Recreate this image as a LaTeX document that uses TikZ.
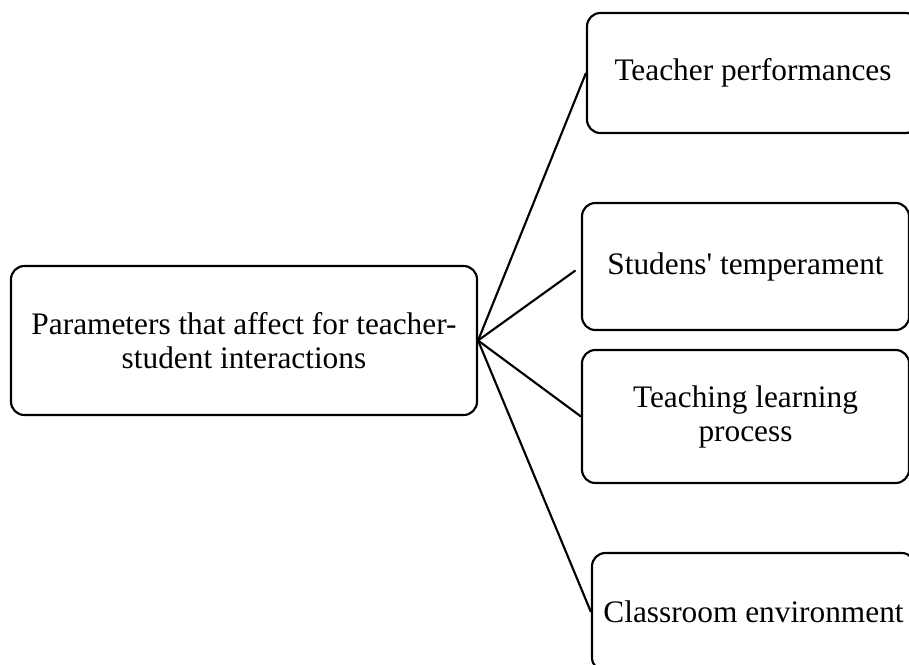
\documentclass[tikz,border=0pt]{standalone}
\usepackage{fontspec}
\setmainfont{Liberation Serif}
\newcommand{\pxu}{0.75pt}

\begin{document}
\begin{tikzpicture}[x=0.75pt,y=-0.75pt,line width=1.6pt]

      \clip (0,0) rectangle (909,664);

      \begin{scope}[every node/.style={draw,rectangle,rounded corners=10pt,align=center,
          font=\fontsize{23.5}{25.5}\selectfont,inner sep=0pt}]
        \node[minimum width=466*\pxu,minimum height=149*\pxu] (param) at (244,340.5)
          {Parameters that affect for teacher-\\student interactions};
        \node[minimum width=332*\pxu,minimum height=120*\pxu] (perf) at (753,73)
          {Teacher performances};
        \node[minimum width=327*\pxu,minimum height=127*\pxu] (temper) at (745.5,266.5)
          {Studens\textquotesingle\ temperament};
        \node[minimum width=327*\pxu,minimum height=133*\pxu] (process) at (745.5,416.5)
          {Teaching learning\\process};
        \node[minimum width=323*\pxu,minimum height=118*\pxu] (env) at (753.5,612)
          {Classroom environment};
      \end{scope}

      \begin{scope}[every edge/.style={draw}]
        \path (param.east) edge (perf.west);
        \path (param.east) edge[shorten >=5pt] (temper.west);
        \path (param.east) edge (process.west);
        \path (param.east) edge (env.west);
      \end{scope}

    \end{tikzpicture}
\end{document}
